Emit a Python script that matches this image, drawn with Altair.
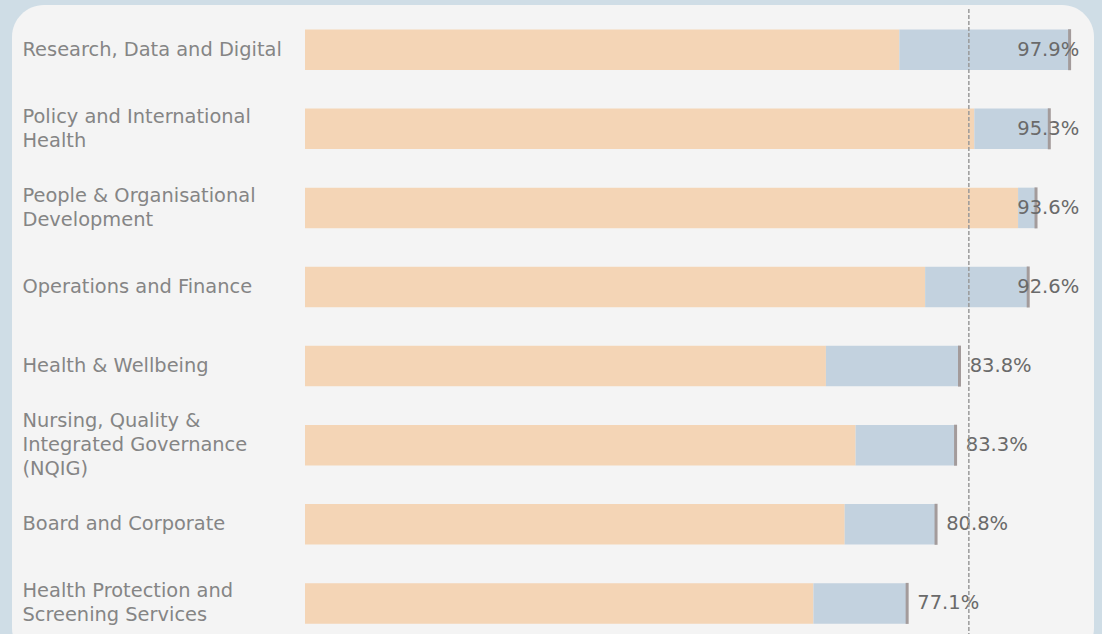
import altair as alt
import pandas as pd

# ---- data ----
labels = [
    "Research, Data and Digital",
    "Policy and International\nHealth",
    "People & Organisational\nDevelopment",
    "Operations and Finance",
    "Health & Wellbeing",
    "Nursing, Quality &\nIntegrated Governance\n(NQIG)",
    "Board and Corporate",
    "Health Protection and\nScreening Services",
]
orange_part = [76.1, 85.7, 91.3, 79.4, 66.7, 70.5, 69.1, 65.1]
totals = [97.9, 95.3, 93.6, 92.6, 83.8, 83.3, 80.8, 77.1]
target = [85]

FONT = "DejaVu Sans"
ORANGE = "#f4d5b6"
BLUE = "#c3d2df"
TICK = "#a39b9b"
PANEL = "#f4f4f4"
OUTER = "#cfdde6"

df = pd.DataFrame({"label": labels, "orange": orange_part, "total": totals})

y_enc = alt.Y(
    "label:N",
    sort=None,
    title=None,
    scale=alt.Scale(paddingInner=0.488, paddingOuter=0.2516, align=0.74),
    axis=alt.Axis(
        domain=False,
        ticks=False,
        tickSize=0,
        grid=False,
        zindex=2,
        labelAlign="left",
        labelBaseline="middle",
        labelPadding=283,
        labelLimit=300,
        labelFont=FONT,
        labelFontSize=19.4,
        labelColor="#858585",
        labelLineHeight=24,
        labelOverlap=False,
        labelBound=False,
        labelOffset={
            "condition": [
                {"test": "length(split(datum.value, '\\n')) == 3", "value": -24},
                {"test": "length(split(datum.value, '\\n')) == 2", "value": -12},
            ],
            "value": 0,
        },
        labelExpr="split(datum.label, '\\n')",
    ),
)
x_scale = alt.Scale(domain=[0, 100], nice=False, zero=True)

panel = alt.Chart(pd.DataFrame({"p": [0]})).mark_rect(
    color=PANEL, cornerRadius=32
).encode(
    x=alt.value(-293), x2=alt.value(789), y=alt.value(5), y2=alt.value(660)
)

base = alt.Chart(df)

orange_bar = base.mark_bar(color=ORANGE).encode(
    x=alt.X("zero:Q", scale=x_scale, axis=None),
    x2="orange:Q",
    y=y_enc,
).transform_calculate(zero="0")

blue_bar = base.mark_bar(color=BLUE).encode(
    x=alt.X("orange:Q", scale=x_scale, axis=None),
    x2="total:Q",
    y=alt.Y("label:N", sort=None),
)

end_tick = base.mark_tick(color=TICK, thickness=3, size=41, opacity=1).encode(
    x=alt.X("total:Q", scale=x_scale, axis=None),
    y=alt.Y("label:N", sort=None),
)

pct_text = base.transform_calculate(
    pos="min(datum.total + 1.3, 91.2)",
    txt="format(datum.total, '.1f') + '%'",
).mark_text(
    align="left", baseline="middle", font=FONT, fontSize=19.5, color="#6a6a6a"
).encode(
    x=alt.X("pos:Q", scale=x_scale, axis=None),
    y=alt.Y("label:N", sort=None),
    text="txt:N",
)

ref_rule = alt.Chart(pd.DataFrame({"target": target})).mark_rule(
    color="#9a9a9a", strokeWidth=1.5, strokeDash=[4, 2]
).encode(
    x=alt.X("target:Q", scale=x_scale, axis=None),
    y=alt.value(9),
    y2=alt.value(634),
)

chart = alt.layer(panel, orange_bar, blue_bar, end_tick, pct_text, ref_rule).properties(
    width=781,
    height=634,
    autosize=alt.AutoSizeParams(type="none"),
    padding={"left": 305, "top": 0, "right": 16, "bottom": 0},
    background=OUTER,
).configure_view(strokeOpacity=0, fill=None)

chart.save("out.html", embed_options={"renderer": "svg", "actions": False})
